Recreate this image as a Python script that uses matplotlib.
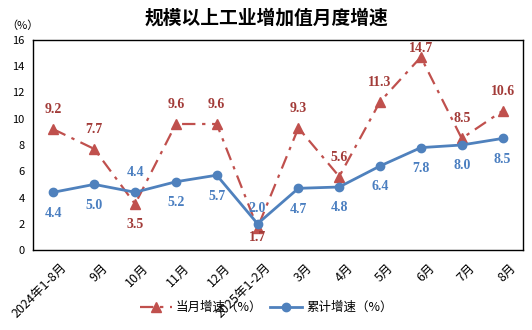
import matplotlib
matplotlib.use("Agg")
import matplotlib.pyplot as plt
from matplotlib.transforms import ScaledTranslation

plt.rcParams['font.family'] = ['Noto Sans CJK SC', 'DejaVu Sans']

categories = ["2024年1-8月", "9月", "10月", "11月", "12月", "2025年1-2月", "3月", "4月", "5月", "6月", "7月", "8月"]
monthly = [9.2, 7.7, 3.5, 9.6, 9.6, 1.7, 9.3, 5.6, 11.3, 14.7, 8.5, 10.6]
cumulative = [4.4, 5.0, 4.4, 5.2, 5.7, 2.0, 4.7, 4.8, 6.4, 7.8, 8.0, 8.5]
monthly_pos = ["a", "a", "b", "a", "a", "b", "a", "a", "a", "a", "a", "a"]
cumulative_pos = ["b", "b", "a", "b", "b", "a", "b", "b", "b", "b", "b", "b"]

red = "#C0504D"
red_txt = "#A23B38"
blue = "#4F81BD"
blue_txt = "#4A7EC0"

fig = plt.figure(figsize=(5.32, 3.30), dpi=100)
ax = fig.add_axes([0.062, 0.2424, 0.921, 0.6364])
x = list(range(len(categories)))

ax.plot(x, monthly, color=red, linestyle=(0, (6, 3, 1.5, 3)), linewidth=1.6,
        marker="^", markersize=6.5, label="当月增速（%）")
ax.plot(x, cumulative, color=blue, linestyle="-", linewidth=2.0,
        marker="o", markersize=6, label="累计增速（%）")

ABOVE, BELOW = 14, -15
# labels squeezed by the plot frame
m_override = {9: 6.5, 5: -7}
c_override = {5: 11}

for i, (xi, v, p) in enumerate(zip(x, monthly, monthly_pos)):
    off = m_override.get(i, ABOVE if p == "a" else BELOW)
    ax.annotate(f"{v:.1f}", (xi, v), xytext=(0, off), textcoords="offset points",
                ha="center", va="center", fontsize=10, fontweight="bold",
                color=red_txt, family="Liberation Serif")
for i, (xi, v, p) in enumerate(zip(x, cumulative, cumulative_pos)):
    off = c_override.get(i, ABOVE if p == "a" else BELOW)
    ax.annotate(f"{v:.1f}", (xi, v), xytext=(0, off), textcoords="offset points",
                ha="center", va="center", fontsize=10, fontweight="bold",
                color=blue_txt, family="Liberation Serif")

ax.set_xlim(-0.5, len(categories) - 0.5)
ax.set_ylim(0, 16)
ax.set_yticks(range(0, 17, 2))
ax.set_xticks(x)
ax.set_xticklabels(categories, rotation=45, ha="right", rotation_mode="anchor", fontsize=9)
ax.tick_params(axis="y", length=0, labelsize=8, pad=6)
ax.tick_params(axis="x", length=0, labelsize=9, pad=8)
shift = ScaledTranslation(7 / 100, 0, fig.dpi_scale_trans)
for lbl in ax.get_xticklabels():
    lbl.set_transform(lbl.get_transform() + shift)
for s in ax.spines.values():
    s.set_linewidth(1.0)
    s.set_color("black")

fig.text(0.012, 0.905, "（%）", fontsize=8, ha="left", va="bottom")
fig.suptitle("规模以上工业增加值月度增速", y=0.975, fontsize=13.5, fontweight="bold")

fig.legend(loc="center", bbox_to_anchor=(0.5, 0.068), ncol=2, frameon=False,
           fontsize=9, handlelength=2.6, handletextpad=0.3, columnspacing=0.6)

fig.savefig("out.png", dpi=100)
